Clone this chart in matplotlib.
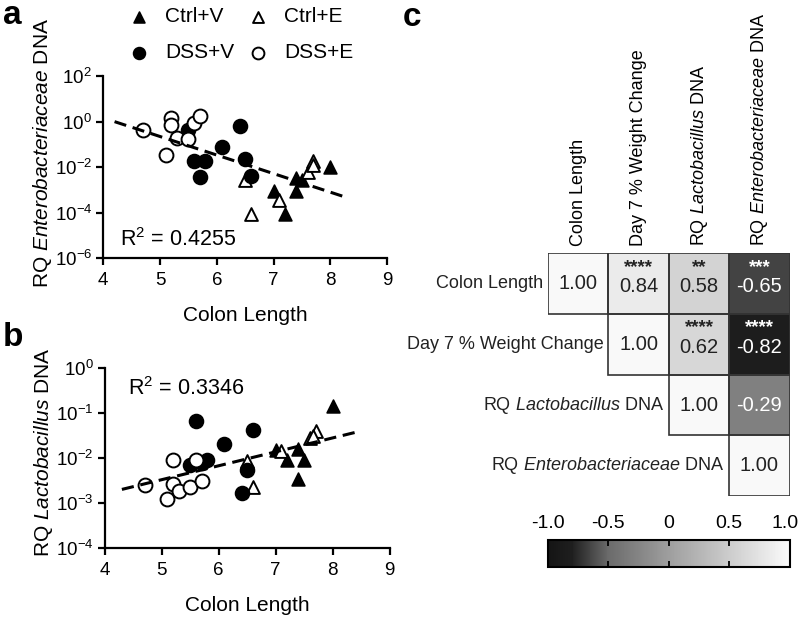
import numpy as np
import matplotlib
matplotlib.use('Agg')
import matplotlib.pyplot as plt
import matplotlib.transforms as mtransforms
from matplotlib.colors import LinearSegmentedColormap, Normalize
from matplotlib.patches import Rectangle
from matplotlib.ticker import FixedLocator, NullLocator

plt.rcParams['font.family'] = ['Liberation Sans', 'DejaVu Sans']
plt.rcParams['mathtext.fontset'] = 'custom'
plt.rcParams['mathtext.rm'] = 'Liberation Sans'
plt.rcParams['mathtext.it'] = 'Liberation Sans:italic'
plt.rcParams['mathtext.default'] = 'regular'

# ---- panel a : Enterobacteriaceae vs colon length ----
a_ctrlv_x = [7.0, 7.2, 7.4, 7.4, 7.5, 8.0]
a_ctrlv_y = [9e-4, 9e-5, 3.2e-3, 9e-4, 2.7e-3, 1.05e-2]
a_ctrle_x = [6.5, 6.6, 7.1, 7.6, 7.7, 7.7]
a_ctrle_y = [2.7e-3, 9e-5, 3.5e-4, 6.3e-3, 1.8e-2, 1.2e-2]
a_dssv_x = [5.5, 6.4, 6.1, 5.6, 5.8, 5.7, 6.5, 6.6]
a_dssv_y = [0.41, 0.66, 0.076, 0.019, 0.019, 0.0038, 0.022, 0.0041]
a_dsse_x = [4.7, 5.2, 5.2, 5.1, 5.3, 5.5, 5.6, 5.7]
a_dsse_y = [0.45, 1.45, 0.74, 0.035, 0.19, 0.17, 0.87, 1.7]
a_fit_x = [4.2, 8.3]
a_fit_y = [1.0, 4.5e-4]

# ---- panel b : Lactobacillus vs colon length ----
b_ctrlv_x = [7.0, 7.2, 7.4, 7.4, 7.5, 8.0]
b_ctrlv_y = [0.015, 0.0092, 0.016, 0.0034, 0.0089, 0.14]
b_ctrle_x = [6.5, 6.6, 7.1, 7.6, 7.7, 7.65]
b_ctrle_y = [0.0085, 0.0023, 0.014, 0.028, 0.039, 0.03]
b_dssv_x = [5.6, 6.6, 6.1, 5.5, 5.8, 5.7, 6.5, 6.4]
b_dssv_y = [0.067, 0.041, 0.020, 0.0068, 0.009, 0.0078, 0.0055, 0.0017]
b_dsse_x = [4.7, 5.1, 5.2, 5.2, 5.3, 5.5, 5.6, 5.7]
b_dsse_y = [0.0025, 0.0012, 0.0092, 0.0027, 0.0018, 0.0023, 0.0092, 0.003]
b_fit_x = [4.3, 8.4]
b_fit_y = [0.002, 0.037]

# ---- panel c : correlation matrix ----
var_names = ['Colon Length', 'Day 7 % Weight Change',
             'RQ $\\mathit{Lactobacillus}$ DNA',
             'RQ $\\mathit{Enterobacteriaceae}$ DNA']
corr = np.array([[1.00, 0.84, 0.58, -0.65],
                 [np.nan, 1.00, 0.62, -0.82],
                 [np.nan, np.nan, 1.00, -0.29],
                 [np.nan, np.nan, np.nan, 1.00]])
stars = [['', '****', '**', '***'],
         ['', '', '****', '****'],
         ['', '', '', ''],
         ['', '', '', '']]
cbar_ticks = [-1.0, -0.5, 0, 0.5, 1.0]
cbar_labels = ['-1.0', '-0.5', '0', '0.5', '1.0']

fig = plt.figure(figsize=(8, 6.19), dpi=100)


def scatter_panel(ax, data, fit_x, fit_y):
    (cvx, cvy), (cex, cey), (dvx, dvy), (dex, dey) = data
    h1 = ax.scatter(cvx, cvy, marker='^', s=85, c='black', edgecolors='black',
                    linewidths=1.2, zorder=3, label='Ctrl+V')
    h2 = ax.scatter(cex, cey, marker='^', s=85, c='white', edgecolors='black',
                    linewidths=1.4, zorder=3, label='Ctrl+E')
    h3 = ax.scatter(dvx, dvy, marker='o', s=100, c='black', edgecolors='black',
                    linewidths=1.2, zorder=3, label='DSS+V')
    h4 = ax.scatter(dex, dey, marker='o', s=100, c='white', edgecolors='black',
                    linewidths=1.4, zorder=3, label='DSS+E')
    ax.plot(fit_x, fit_y, color='black', lw=2.2, ls=(0, (4.0, 2.2)), zorder=4)
    ax.set_yscale('log')
    ax.set_xlim(4, 9)
    ax.set_xticks([4, 5, 6, 7, 8, 9])
    for s in ['top', 'right']:
        ax.spines[s].set_visible(False)
    for s in ['left', 'bottom']:
        ax.spines[s].set_linewidth(1.6)
    ax.tick_params(axis='both', width=1.6, length=5, labelsize=13.5, pad=3)
    ax.tick_params(axis='x', pad=5)
    ax.yaxis.set_minor_locator(NullLocator())
    ax.set_xlabel('Colon Length', fontsize=15, labelpad=12)
    return [h1, h3, h2, h4]


# panel a
ax1 = fig.add_axes([0.129, 0.583, 0.355, 0.294])
handles = scatter_panel(ax1, [(a_ctrlv_x, a_ctrlv_y), (a_ctrle_x, a_ctrle_y),
                              (a_dssv_x, a_dssv_y), (a_dsse_x, a_dsse_y)],
                        a_fit_x, a_fit_y)
ax1.set_ylim(1e-6, 1e2)
ax1.yaxis.set_major_locator(FixedLocator([1e-6, 1e-4, 1e-2, 1e0, 1e2]))
ax1.set_yticklabels(['10$^{-6}$', '10$^{-4}$', '10$^{-2}$', '10$^{0}$', '10$^{2}$'])
ax1.set_ylabel('RQ $\\mathit{Enterobacteriaceae}$ DNA', fontsize=15)
ax1.yaxis.set_label_coords(-0.175, 0.58)
ax1.text(4.3, 10 ** -5.2, 'R$^{2}$ = 0.4255', fontsize=15.5, va='center')
fig.legend(handles=handles, ncol=2, frameon=False, fontsize=15,
           loc='upper left', bbox_to_anchor=(0.163, 0.988), borderpad=0,
           borderaxespad=0, columnspacing=0.75, handlelength=0.8,
           handletextpad=0.85, labelspacing=0.8, markerscale=0.85)

# panel b
ax2 = fig.add_axes([0.131, 0.1147, 0.356, 0.291])
scatter_panel(ax2, [(b_ctrlv_x, b_ctrlv_y), (b_ctrle_x, b_ctrle_y),
                    (b_dssv_x, b_dssv_y), (b_dsse_x, b_dsse_y)],
              b_fit_x, b_fit_y)
ax2.set_ylim(1e-4, 1e0)
ax2.yaxis.set_major_locator(FixedLocator([1e-4, 1e-3, 1e-2, 1e-1, 1e0]))
ax2.set_yticklabels(['10$^{-4}$', '10$^{-3}$', '10$^{-2}$', '10$^{-1}$', '10$^{0}$'])
ax2.set_ylabel('RQ $\\mathit{Lactobacillus}$ DNA', fontsize=15)
ax2.yaxis.set_label_coords(-0.175, 0.53)
ax2.text(4.4, 10 ** -0.45, 'R$^{2}$ = 0.3346', fontsize=15.5, va='center')

# panel c
cmap = LinearSegmentedColormap.from_list(
    'corrgray', [(0.0, (0.08,) * 3), (0.1, (0.12,) * 3), (0.25, (0.42,) * 3),
                 (0.5, (0.62,) * 3), (0.75, (0.80,) * 3), (1.0, (0.98,) * 3)])
norm = Normalize(-1, 1)
ax3 = fig.add_axes([0.685, 0.1987, 0.302, 0.392])
ax3.imshow(np.ma.masked_invalid(corr), cmap=cmap, norm=norm, aspect='auto')
n = len(var_names)
for i in range(n):
    for j in range(n):
        if np.isnan(corr[i, j]):
            continue
        ax3.add_patch(Rectangle((j - 0.5, i - 0.5), 1, 1, fill=False,
                                ec='#333333', lw=1.2, zorder=3))
        v = corr[i, j]
        tc = 'white' if v < -0.2 else '#222222'
        dy = 0.05 if stars[i][j] else 0.0
        ax3.text(j, i + dy, f'{v:.2f}', ha='center', va='center',
                 fontsize=14.5, color=tc)
        if stars[i][j]:
            ax3.text(j, i - 0.27, stars[i][j], ha='center', va='center',
                     fontsize=13.5, fontweight='bold', color=tc)
    ax3.text(i - 0.58, i, var_names[i], ha='right', va='center', fontsize=13,
             color='#222222')
ax3.set_xlim(-0.5, n - 0.5)
ax3.set_ylim(n - 0.5, -0.5)
ax3.xaxis.tick_top()
ax3.set_xticks(range(n))
ax3.set_xticklabels(var_names, rotation=90, fontsize=13)
ax3.set_yticks([])
ax3.tick_params(axis='x', length=0, pad=5)
for s in ax3.spines.values():
    s.set_visible(False)

# colorbar
cax = fig.add_axes([0.685, 0.0835, 0.302, 0.0441])
cb = fig.colorbar(plt.cm.ScalarMappable(norm=norm, cmap=cmap), cax=cax,
                  orientation='horizontal')
cb.outline.set_linewidth(1.5)
cax.xaxis.set_ticks_position('top')
cb.set_ticks(cbar_ticks)
cb.set_ticklabels(cbar_labels)
cax.tick_params(axis='x', direction='in', length=4, width=1.3, labelsize=14,
                pad=6, top=True, bottom=True, labeltop=True, labelbottom=False)
last = cax.get_xticklabels()[-1]
last.set_ha('right')
last.set_transform(last.get_transform() +
                   mtransforms.ScaledTranslation(0.09, 0, fig.dpi_scale_trans))

# panel letters
fig.text(0.004, 0.975, 'a', fontsize=24, fontweight='bold', va='center')
fig.text(0.004, 0.455, 'b', fontsize=24, fontweight='bold', va='center')
fig.text(0.503, 0.972, 'c', fontsize=24, fontweight='bold', va='center')

fig.savefig('out.png', dpi=100)
